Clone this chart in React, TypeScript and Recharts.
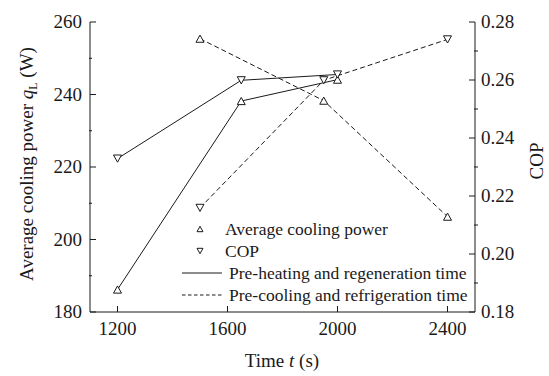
import React from "react"
import { ComposedChart, Line, XAxis, YAxis } from "recharts"

const SERIF = "'Liberation Serif', 'Times New Roman', serif"
const INK = "#1a1a1a"

// pre-heating / regeneration time (solid)
const timeSolid = [1200, 1650, 2000]
const powerSolid = [186.2, 238.2, 244.1]
const copSolid = [0.2329, 0.2599, 0.2619]

// pre-cooling / refrigeration time (dashed)
const timeDashed = [1500, 1950, 2400]
const powerDashed = [255.4, 238.3, 206.3]
const copDashed = [0.2159, 0.2599, 0.274]

const xTicks = [1200, 1600, 2000, 2400]
const powerTicks = [180, 200, 220, 240, 260]
const powerMinor = [190, 210, 230, 250]
const copTicks = [0.18, 0.2, 0.22, 0.24, 0.26, 0.28]
const copMinor = [0.19, 0.21, 0.23, 0.25, 0.27]

const legendItems = [
  { kind: "up", label: "Average cooling power" },
  { kind: "down", label: "COP" },
  { kind: "solid", label: "Pre-heating and regeneration time" },
  { kind: "dashed", label: "Pre-cooling and refrigeration time" },
]

const zip = (ts: number[], vs: number[]) => ts.map((t, i) => ({ t, v: vs[i] }))
const isMinor = (list: number[], v: number) => list.some(m => Math.abs(m - v) < 1e-9)

function triPath(cx: number, cy: number, s: number, down: boolean) {
  const h = s * 0.9
  return down
    ? `M${cx - s / 2},${cy - h / 2}L${cx + s / 2},${cy - h / 2}L${cx},${cy + h / 2}Z`
    : `M${cx - s / 2},${cy + h / 2}L${cx + s / 2},${cy + h / 2}L${cx},${cy - h / 2}Z`
}

// eslint-disable-next-line @typescript-eslint/no-explicit-any
const upDot = (p: any) => <path key={p.key ?? `u${p.index}`} d={triPath(p.cx, p.cy, 8, false)} fill="#fff" stroke={INK} strokeWidth={1} />
// eslint-disable-next-line @typescript-eslint/no-explicit-any
const downDot = (p: any) => <path key={p.key ?? `d${p.index}`} d={triPath(p.cx, p.cy, 8, true)} fill="#fff" stroke={INK} strokeWidth={1} />

// inward tick marks drawn together with the label (x/y is the label anchor, 8px off the axis)
// eslint-disable-next-line @typescript-eslint/no-explicit-any
function LeftTick({ x, y, payload }: any) {
  if (isMinor(powerMinor, payload.value)) return <line x1={x + 7} x2={x + 10} y1={y} y2={y} stroke={INK} />
  return (
    <g>
      <line x1={x + 8} x2={x + 14} y1={y} y2={y} stroke={INK} />
      <text x={x} y={y} dy={6} textAnchor="end" fontFamily={SERIF} fontSize={19} fill={INK}>{payload.value}</text>
    </g>
  )
}
// eslint-disable-next-line @typescript-eslint/no-explicit-any
function RightTick({ x, y, payload }: any) {
  if (isMinor(copMinor, payload.value)) return <line x1={x - 9} x2={x - 5} y1={y} y2={y} stroke={INK} />
  return (
    <g>
      <line x1={x - 8} x2={x - 14} y1={y} y2={y} stroke={INK} />
      <text x={x - 2} y={y} dy={6} textAnchor="start" fontFamily={SERIF} fontSize={19} fill={INK}>{Number(payload.value).toFixed(2)}</text>
    </g>
  )
}
// eslint-disable-next-line @typescript-eslint/no-explicit-any
function BottomTick({ x, y, payload }: any) {
  return (
    <g>
      <line x1={x} x2={x} y1={y - 8} y2={y - 14} stroke={INK} />
      <text x={x} y={y} dy={15} textAnchor="middle" fontFamily={SERIF} fontSize={19} fill={INK}>{payload.value}</text>
    </g>
  )
}

function LegendSvg() {
  return (
    <g>
      {legendItems.map((it, i) => {
        const y = 229 + i * 22
        const isMarker = it.kind === "up" || it.kind === "down"
        return (
          <g key={it.label}>
            {isMarker
              ? <path d={triPath(200, y, 6, it.kind === "down")} fill="none" stroke={INK} />
              : <line x1={182} x2={222} y1={y} y2={y} stroke={INK} strokeDasharray={it.kind === "dashed" ? "3.5 2.5" : undefined} />}
            <text x={isMarker ? 225 : 229} y={y} dy={5.5} fontFamily={SERIF} fontSize={17.5} fill={INK}>{it.label}</text>
          </g>
        )
      })}
    </g>
  )
}

export default function App() {
  return (
    <div style={{ position: "absolute", left: 0, top: 0, width: 549, height: 376, background: "#fff" }}>
      <ComposedChart width={549} height={376} margin={{ top: 22, right: 19, bottom: 24, left: 20 }}>
        <XAxis
          dataKey="t" type="number" domain={[1100, 2500]} ticks={xTicks}
          stroke={INK} tickLine={false} tick={<BottomTick />} height={40} allowDataOverflow
        />
        <YAxis
          yAxisId="p" domain={[180, 260]} ticks={[...powerTicks, ...powerMinor].sort((a, b) => a - b)} stroke={INK}
          tickLine={false} tick={<LeftTick />} width={70} allowDataOverflow interval={0}
        />
        <YAxis
          yAxisId="c" orientation="right" domain={[0.18, 0.28]} ticks={[...copTicks, ...copMinor].sort((a, b) => a - b)} stroke={INK}
          tickLine={false} tick={<RightTick />} width={55} allowDataOverflow interval={0}
        />

        <Line data={zip(timeSolid, powerSolid)} dataKey="v" yAxisId="p" stroke={INK} strokeWidth={1}
          dot={upDot} activeDot={false} isAnimationActive={false} legendType="none" />
        <Line data={zip(timeSolid, copSolid)} dataKey="v" yAxisId="c" stroke={INK} strokeWidth={1}
          dot={downDot} activeDot={false} isAnimationActive={false} legendType="none" />
        <Line data={zip(timeDashed, powerDashed)} dataKey="v" yAxisId="p" stroke={INK} strokeWidth={1}
          strokeDasharray="5 3" dot={upDot} activeDot={false} isAnimationActive={false} legendType="none" />
        <Line data={zip(timeDashed, copDashed)} dataKey="v" yAxisId="c" stroke={INK} strokeWidth={1}
          strokeDasharray="5 3" dot={downDot} activeDot={false} isAnimationActive={false} legendType="none" />

        <LegendSvg />

        <text x={282} y={367} textAnchor="middle" fontFamily={SERIF} fontSize={19} fill={INK}>
          Time <tspan fontStyle="italic">t</tspan> (s)
        </text>
        <text transform="translate(33,164) rotate(-90)" textAnchor="middle" fontFamily={SERIF} fontSize={19} fill={INK}>
          Average cooling power <tspan fontStyle="italic">q</tspan>
          <tspan fontSize={12} dy={4}>L</tspan>
          <tspan dy={-4}> (W)</tspan>
        </text>
        <text transform="translate(543,161) rotate(-90)" textAnchor="middle" fontFamily={SERIF} fontSize={19} fill={INK}>
          COP
        </text>
      </ComposedChart>
    </div>
  )
}
